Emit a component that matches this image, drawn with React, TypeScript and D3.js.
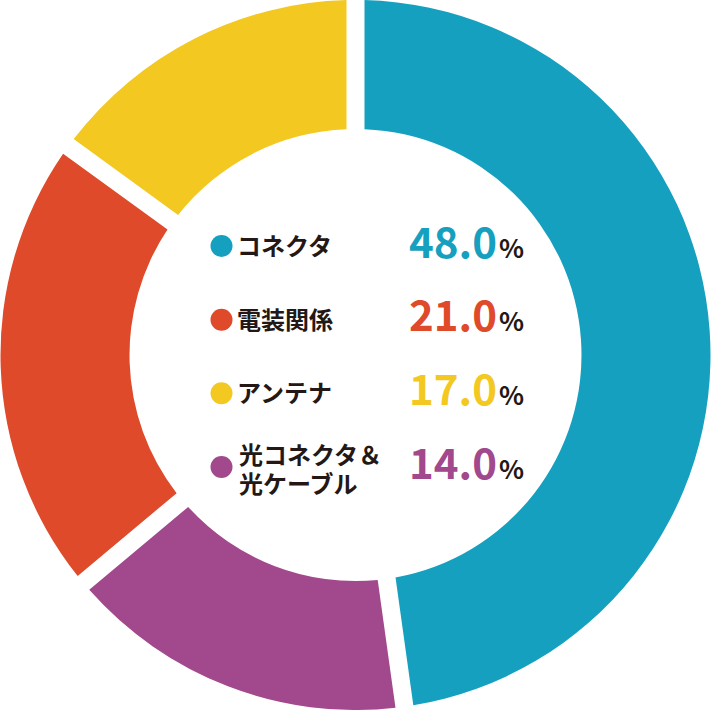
import { useMemo } from 'react';
import * as d3 from 'd3';

// legend order
const categories = ['コネクタ', '電装関係', 'アンテナ', '光コネクタ＆\n光ケーブル'];
const percents = [48.0, 21.0, 17.0, 14.0];
const colors = ['#16A0BF', '#DE4A2A', '#F2C821', '#A2488C'];

// ring order, clockwise from 12 o'clock, with the arc shares as drawn in the picture
const ringOrder = [0, 3, 1, 2];
const ringShares = [47.8, 16.1, 21.1, 15.0];

const TEXT = '#231815';
const FONT = '"Noto Sans CJK JP", "Noto Sans", sans-serif';

export default function App() {
  const width = 711;
  const height = 710;
  const cx = 355.5;
  const cy = 355;
  const outerR = 355;
  const innerR = 226;
  const gap = 18;

  const arcs = useMemo(() => {
    const pie = d3.pie<number>().sort(null).value((d) => ringShares[d]);
    return pie(ringOrder.map((_, i) => i));
  }, []);

  const arcGen = useMemo(
    () =>
      d3
        .arc<d3.PieArcDatum<number>>()
        .innerRadius(innerR)
        .outerRadius(outerR)
        .padRadius(outerR)
        .padAngle(gap / outerR),
    []
  );

  const rowY = d3.scalePoint<string>().domain(categories).range([246, 467]);

  return (
    <svg
      width={width}
      height={height}
      viewBox={`0 0 ${width} ${height}`}
      style={{ position: 'absolute', left: 0, top: 0, fontFamily: FONT }}
    >
      <g transform={`translate(${cx},${cy})`}>
        {arcs.map((a, i) => (
          <path key={i} d={arcGen(a) ?? ''} fill={colors[ringOrder[i]]} />
        ))}
      </g>

      {categories.map((c, i) => {
        const y = rowY(c) ?? 0;
        const lines = c.split('\n');
        return (
          <g key={c}>
            <circle cx={221.5} cy={y} r={11} fill={colors[i]} />
            {lines.length === 1 ? (
              <text x={237} y={y + 9} fontSize={24} fontWeight={700} fill={TEXT}>
                {lines[0]}
              </text>
            ) : (
              <text y={y - 3} fontSize={24} fontWeight={700} fill={TEXT}>
                {lines.map((l, j) => (
                  <tspan key={j} x={239} dy={j === 0 ? 0 : 29}>
                    {l}
                  </tspan>
                ))}
              </text>
            )}
            <text
              x={497}
              y={y + 11.5}
              textAnchor="end"
              fontSize={42}
              fontWeight={700}
              fill={colors[i]}
            >
              {percents[i].toFixed(1)}
            </text>
            <text x={499} y={y + 11.5} fontSize={26} fontWeight={700} fill={TEXT}>
              %
            </text>
          </g>
        );
      })}
    </svg>
  );
}
